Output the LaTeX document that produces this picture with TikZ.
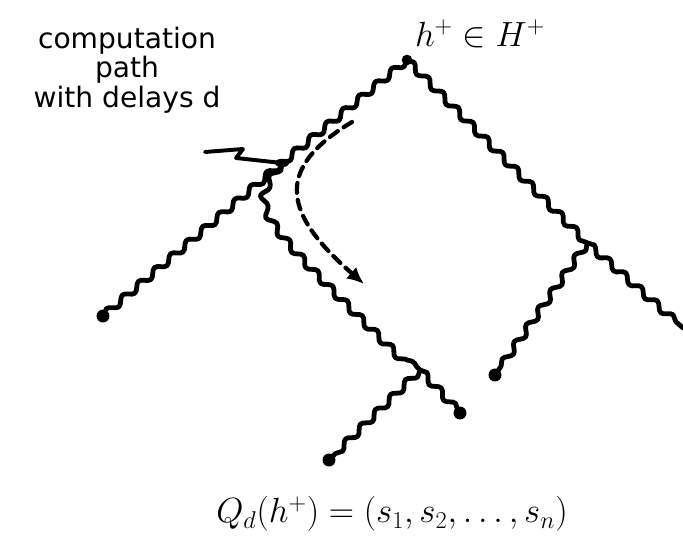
\documentclass[tikz,border=0pt]{standalone}
\usepackage{amsmath, amssymb}
\usepackage{fontspec}
\setsansfont{DejaVu Sans}
\usepackage{tikz}
\usetikzlibrary{arrows.meta, decorations.pathmorphing}

\tikzset{
  wavy/.style={line width=3.4pt, line cap=round, line join=round,
    decorate, decoration={snake, amplitude=2.4pt, segment length=15pt}},
  leafdot/.style={fill=black},
  delaypath/.style={line width=3pt, dash pattern=on 7pt off 5pt, line cap=round,
    -{Latex[length=12pt, width=11pt]}},
  pointer/.style={line width=2.8pt, line cap=round, line join=round}
}

\begin{document}
\begin{tikzpicture}[x=0.025cm, y=-0.025cm]
      \useasboundingbox (0, 0) rectangle (683, 544);

      % Tree vertices
      \coordinate (root) at (407, 60);
      \coordinate (nA) at (282, 163);
      \coordinate (nB) at (420, 370);
      \coordinate (nC) at (587, 243);
      \coordinate (lfA) at (103, 316);
      \coordinate (lfC) at (495, 375);
      \coordinate (outC) at (683, 328);
      \coordinate (lfB1) at (329, 460);
      \coordinate (lfB2) at (460, 413);

      % Branches
      \draw[wavy] (root) -- (nA);
      \draw[wavy] (nA) -- (lfA);
      \draw[wavy] (nA) .. controls (252, 205) .. (nB);
      \draw[wavy] (root) -- (nC);
      \draw[wavy] (nC) -- (lfC);
      \draw[wavy] (nC) -- (outC);
      \draw[wavy] (nB) -- (lfB1);
      \draw[wavy] (nB) -- (lfB2);

      % Leaves and root
      \fill[leafdot] (root) circle (3.8pt);
      \foreach \leaf in {lfA, lfC, lfB1, lfB2}
        \fill[leafdot] (\leaf) circle (4.6pt);

      % Dashed computation path
      \coordinate (dstart) at (352, 122);
      \coordinate (dend) at (364, 284);
      \draw[delaypath] (dstart) .. controls (272, 170) and (285, 215) .. (dend);

      % Pointer from label
      \coordinate (ptail) at (205, 152);
      \draw[pointer] (ptail) -- (243, 149) -- (236, 158) -- (nA);
      \fill (nA) ellipse (5pt and 3pt);

      % Labels
      \node[font=\sffamily\fontsize{20}{21}\selectfont, align=center] (lbl) at (127, 70)
        {computation\\path\\with delays d};
      \node[font=\fontsize{25}{28}\selectfont] (hlbl) at (480, 34) {$h^{+}\in H^{+}$};
      \node[font=\fontsize{26}{30}\selectfont] (qlbl) at (392, 514)
        {$Q_d(h^{+})=(s_1,s_2,\dots,s_n)$};
\end{tikzpicture}
\end{document}
